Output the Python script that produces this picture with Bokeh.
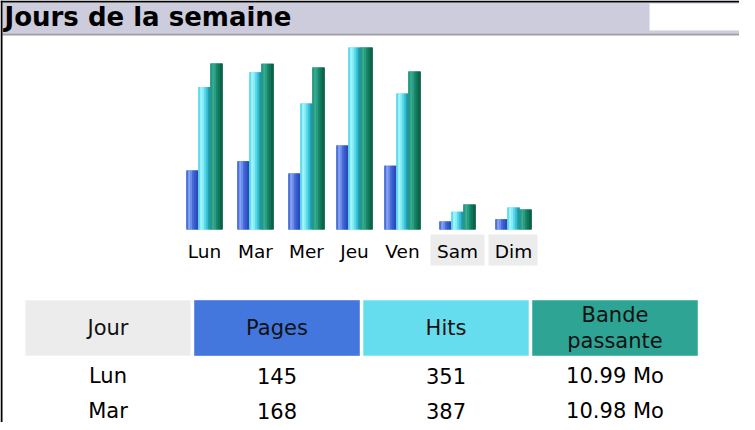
from bokeh.plotting import figure
from bokeh.models import Range1d, ColumnDataSource
from bokeh.core.properties import value
from bokeh.embed import file_html
from bokeh.resources import INLINE

# ---------------- data ----------------
title = "Jours de la semaine"
days = ["Lun", "Mar", "Mer", "Jeu", "Ven", "Sam", "Dim"]
weekend = [False, False, False, False, False, True, True]
pages = [145, 168, 138, 207, 157, 20, 25]
hits = [351, 387, 310, 448, 335, 44, 54]
bandwidth_mo = [10.99, 10.98, 10.72, 12.05, 10.46, 1.66, 1.32]
headers = ["Jour", "Pages", "Hits", "Bande\npassante"]

# ---------------- layout / style ----------------
W, H = 739, 422          # figure size; page margin is 8px
OFF = 8                  # convert page px -> frame px
FONT = "DejaVu Sans"
LABEL_SIZE = 18.5
TABLE_SIZE = 21
C_PAGES, C_HITS, C_BW, C_GREY = "#4477DD", "#66DDEE", "#2EA495", "#ECECEC"

def fx(v):
    return v - OFF

def fy(v):
    return v - OFF

p = figure(width=W, height=H, x_range=Range1d(0, W), y_range=Range1d(H, 0),
           output_backend="svg", toolbar_location=None,
           x_axis_location=None, y_axis_location=None, min_border=0)
p.outline_line_color = None
p.xgrid.visible = False
p.ygrid.visible = False
p.background_fill_color = "white"

# ---------------- frame & title bar ----------------
p.quad(left=[fx(10)], right=[W], top=[fy(10)], bottom=[fy(41)],
       fill_color="#CCCCDD", line_color=None)
p.quad(left=[fx(657)], right=[W], top=[fy(11)], bottom=[fy(38)],
       fill_color="white", line_color="#E4E4EE", line_width=1)
p.quad(left=[fx(10)], right=[W], top=[fy(41)], bottom=[fy(43)],
       fill_color="#9E9EA8", line_color=None)
p.quad(left=[0], right=[W], top=[0], bottom=[2],
       fill_color="black", line_color=None)
p.quad(left=[0], right=[2], top=[0], bottom=[H],
       fill_color="black", line_color=None)
p.text(x=[fx(12)], y=[fy(24.5)], text=[title], text_font=value(FONT),
       text_font_style="bold", text_font_size="26px", text_color="#000000",
       text_align="left", text_baseline="middle")

# ---------------- bar chart ----------------
# column widths follow the label widths (like an HTML table)
adv = {"L": .557, "u": .634, "n": .634, "M": .863, "a": .613, "r": .411,
       "e": .615, "J": .295, "V": .684, "S": .635, "m": .974, "D": .770,
       "i": .278}
label_w = [sum(adv.get(ch, .6) for ch in d) * 18 for d in days]
cell_pad, cell_gap = 13.25, 4
cell_w = [w + cell_pad for w in label_w]
x_left = 188.8
centers, edges = [], []
cur = x_left
for cw in cell_w:
    edges.append((round(cur), round(cur + cw)))
    centers.append(round(cur + cw / 2))
    cur += cw + cell_gap

baseline = 237           # page y of bar bottoms
bar_h = 182              # full-scale bar height in px
k_cnt = bar_h / max(hits)
k_bw = bar_h / max(bandwidth_mo)
base_f = fy(baseline)
p.extra_y_ranges = {
    "cnt": Range1d(start=(base_f - H) / k_cnt, end=base_f / k_cnt),
    "bw": Range1d(start=(base_f - H) / k_bw, end=base_f / k_bw),
}

bar_w = 12
base_cols = {"pages": "#4A6CDC", "hits": "#66DDEE", "bw": "#1E8C70"}
stripe_cols = {
    "pages": ["#4E70DE", "#86A4F0", "#6A8CE8", "#4466D8", "#3558CA", "#2C48B4"],
    "hits": ["#5EDCEE", "#A6F4FB", "#86ECF5", "#56D6E8", "#36BCD0", "#2098AC"],
    "bw": ["#23997F", "#37AC92", "#2A9C82", "#178468", "#0E7357", "#0B6048"],
}
series = [("pages", pages, -1, "cnt"), ("hits", hits, 0, "cnt"),
          ("bw", bandwidth_mo, 1, "bw")]
n_st = 6
sw = bar_w / n_st
for name, vals, slot, rng in series:
    xb = [fx(c) + slot * bar_w for c in centers]
    p.vbar(x=xb, width=bar_w, top=vals, bottom=0, y_range_name=rng,
           fill_color=base_cols[name], line_color=None)
    for j, col in enumerate(stripe_cols[name]):
        xs = [x - bar_w / 2 + sw * (j + 0.5) for x in xb]
        src = ColumnDataSource(dict(x=xs, top=vals))
        p.vbar(x="x", width=sw + 0.6, top="top", bottom=0, source=src,
               y_range_name=rng, fill_color=col, line_color=None)

# weekend label backgrounds
we_l = [fx(e[0]) for e, w in zip(edges, weekend) if w]
we_r = [fx(e[1]) for e, w in zip(edges, weekend) if w]
p.quad(left=we_l, right=we_r, top=[fy(242)] * len(we_l),
       bottom=[fy(273)] * len(we_l), fill_color=C_GREY, line_color=None)
p.text(x=[fx(c) for c in centers], y=[fy(258.5)] * len(days), text=days,
       text_font=value(FONT), text_font_size=f"{LABEL_SIZE}px",
       text_color="#000000", text_align="center", text_baseline="middle")

# ---------------- table ----------------
t_left, t_cw, t_gap = 33, 165, 4
t_top, t_bot = 308, 363
h_fills = [C_GREY, C_PAGES, C_HITS, C_BW]
h_lines = ["#F4F4F4", "#6A92E6", "#8CE8F4", "#5CBCAE"]
col_l = [t_left + i * (t_cw + t_gap) for i in range(len(headers))]
col_c = [l + t_cw / 2 for l in col_l]
p.quad(left=[fx(l) for l in col_l], right=[fx(l + t_cw) for l in col_l],
       top=[fy(t_top)] * 4, bottom=[fy(t_bot)] * 4,
       fill_color=h_fills, line_color=h_lines, line_width=1)
p.text(x=[fx(c) for c in col_c], y=[fy((t_top + t_bot) / 2)] * 4,
       text=headers, text_font=value(FONT), text_font_size=f"{TABLE_SIZE}px",
       text_color="#111111", text_align="center", text_baseline="middle",
       text_line_height=1.12)

row0, row_h = 383, 35
for i, d in enumerate(days):
    yy = row0 + i * row_h
    if yy + 10 > H + OFF:
        break
    cells = [d, str(pages[i]), str(hits[i]), f"{bandwidth_mo[i]:.2f} Mo"]
    p.text(x=[fx(c) for c in col_c], y=[fy(yy)] * 4, text=cells,
           text_font=value(FONT), text_font_size=f"{TABLE_SIZE}px",
           text_color="#000000", text_align="center", text_baseline="middle")

open("out.html", "w").write(file_html(p, INLINE))
